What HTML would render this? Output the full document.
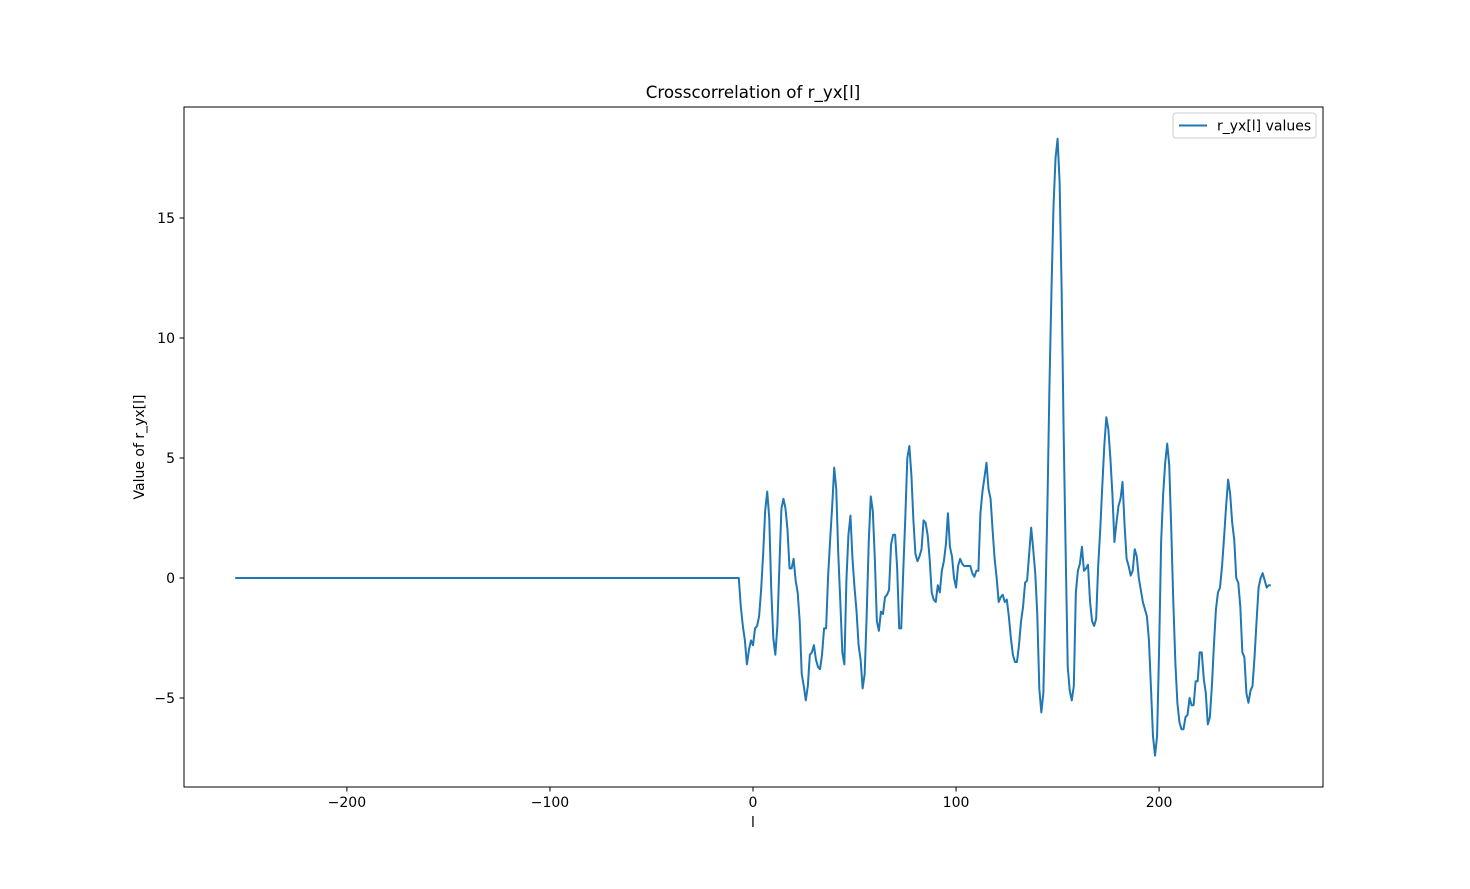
<!DOCTYPE html>
<html><head><meta charset="utf-8"><style>
body{margin:0;background:#fff;}
text{font-family:"DejaVu Sans","Liberation Sans",sans-serif;fill:#000;}
</style></head><body>
<svg id="chart" width="1470" height="884" xmlns="http://www.w3.org/2000/svg">
<rect width="1470" height="884" fill="#fff"/>
<g id="ticks"></g>
<path id="line" fill="none" stroke="#1f77b4" stroke-width="2" stroke-linejoin="round"/>
<rect x="184" y="107" width="1139" height="680" fill="none" stroke="#000" stroke-width="1"/>
<text x="753" y="98" text-anchor="middle" font-size="16.7">Crosscorrelation of r_yx[l]</text>
<text x="753" y="827" text-anchor="middle" font-size="14">l</text>
<text transform="translate(144,447) rotate(-90)" text-anchor="middle" font-size="14">Value of r_yx[l]</text>
<g>
<rect x="1173" y="113" width="143" height="25" rx="3" fill="#fff" stroke="#ccc"/>
<line x1="1179" y1="125.5" x2="1207" y2="125.5" stroke="#1f77b4" stroke-width="2"/>
<text x="1217" y="130.5" font-size="14">r_yx[l] values</text>
</g>
</svg>
<script>
const xTicks=[-200,-100,0,100,200];
const xTickLabels=["\u2212200","\u2212100","0","100","200"];
const yTicks=[-5,0,5,10,15];
const yTickLabels=["\u22125","0","5","10","15"];
const lagStart=-255;
const nonzeroStart=-7;
const values=[0,-1.2,-2.0,-2.6,-3.6,-3.0,-2.6,-2.8,-2.1,-2.0,-1.6,-0.5,1.0,2.8,3.6,2.5,-0.5,-2.5,-3.2,-2.0,0.5,2.9,3.3,2.9,2.0,0.4,0.4,0.8,-0.1,-0.6,-1.8,-4.0,-4.5,-5.1,-4.5,-3.2,-3.1,-2.8,-3.4,-3.7,-3.8,-3.2,-2.1,-2.1,0.1,1.6,3.0,4.6,3.7,1.0,-1.0,-3.1,-3.6,-0.1,1.8,2.6,0.8,-0.4,-1.4,-2.8,-3.4,-4.6,-4.0,-1.5,1.5,3.4,2.8,0.8,-1.8,-2.2,-1.4,-1.5,-0.8,-0.7,-0.5,1.4,1.8,1.8,0.4,-2.1,-2.1,0.3,2.5,5.0,5.5,4.3,2.4,1.0,0.7,0.9,1.2,2.4,2.3,1.8,0.8,-0.6,-0.9,-1.0,-0.3,-0.6,0.3,0.7,1.4,2.7,1.3,0.9,0.0,-0.4,0.5,0.8,0.6,0.5,0.5,0.5,0.5,0.2,0.05,0.3,0.3,2.7,3.6,4.2,4.8,3.7,3.3,2.0,0.8,0.0,-1.0,-0.8,-0.7,-1.0,-0.9,-1.6,-2.5,-3.2,-3.5,-3.5,-2.8,-1.8,-1.2,-0.2,-0.1,1.0,2.1,1.2,0.2,-1.5,-4.6,-5.6,-4.8,-1.0,3.0,8.0,12.0,15.5,17.5,18.3,16.5,12.0,6.0,1.0,-3.7,-4.7,-5.1,-4.5,-0.6,0.3,0.6,1.3,0.3,0.4,0.55,-1.0,-1.8,-2.0,-1.7,0.5,2.0,3.8,5.5,6.7,6.2,5.0,3.5,1.5,2.3,3.0,3.3,4.0,2.2,0.8,0.5,0.1,0.3,1.2,0.9,0.0,-0.5,-1.0,-1.3,-1.6,-2.6,-4.6,-6.6,-7.4,-6.6,-3.0,1.5,3.5,4.8,5.6,4.7,2.0,-1.0,-3.5,-5.2,-6.0,-6.3,-6.3,-5.8,-5.7,-5.0,-5.3,-5.3,-4.3,-4.3,-3.1,-3.1,-4.2,-4.8,-6.1,-5.8,-4.5,-2.8,-1.3,-0.6,-0.4,0.5,1.7,3.0,4.1,3.5,2.3,1.6,0.0,-0.2,-1.2,-3.1,-3.3,-4.8,-5.2,-4.7,-4.5,-3.3,-1.8,-0.4,0.0,0.2,-0.1,-0.4,-0.3,-0.3];
const xs=v=>753+(v)*2.0305;
const ys=v=>578-v*24;
const NS="http://www.w3.org/2000/svg";
const tg=document.getElementById('ticks');
function mk(tag,attrs,txt){const e=document.createElementNS(NS,tag);for(const k in attrs)e.setAttribute(k,attrs[k]);if(txt!==undefined)e.textContent=txt;tg.appendChild(e);return e;}
xTicks.forEach((t,i)=>{
  const l=mk('line',{x1:xs(t),x2:xs(t),y1:787,y2:791.5,stroke:'#000'});
  
  
  const tx=mk('text',{x:xs(t),y:807,'text-anchor':'middle','font-size':'14'},xTickLabels[i]);
  
  
});
yTicks.forEach((t,i)=>{
  const l=mk('line',{x1:179.5,x2:184,y1:ys(t),y2:ys(t),stroke:'#000'});
  
  
  const tx=mk('text',{x:175,y:ys(t)+5,'text-anchor':'end','font-size':'14'},yTickLabels[i]);
  
  
});
let d='M'+xs(lagStart)+','+ys(0);
for(let i=0;i<values.length;i++){d+=' L'+xs(nonzeroStart+i).toFixed(2)+','+ys(values[i]).toFixed(2);}
document.getElementById('line').setAttribute('d',d);
</script>
</body></html>
